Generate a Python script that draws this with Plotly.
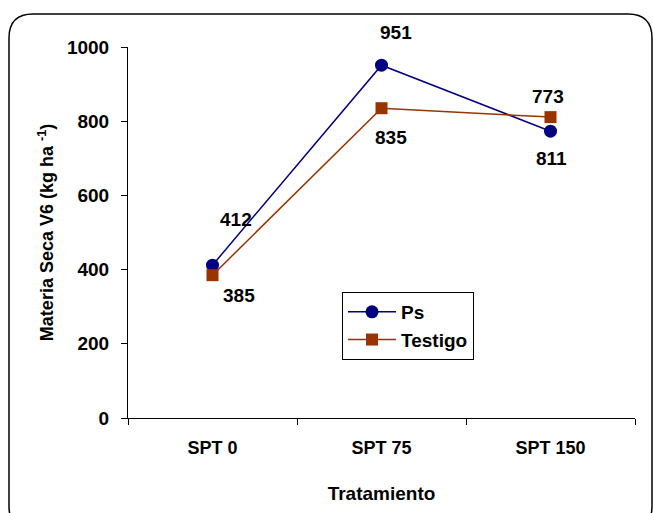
import plotly.graph_objects as go

categories = ["SPT 0", "SPT 75", "SPT 150"]
ps_values = [412, 951, 773]
testigo_values = [385, 835, 811]

# annotation labels as printed in the chart, anchored to nearby points
label_series = ["Ps", "Testigo", "Ps", "Testigo", "Testigo", "Ps"]
label_cat_idx = [0, 0, 1, 1, 2, 2]
label_text = ["412", "385", "951", "835", "773", "811"]
label_shift = [(23, 46), (26, -20), (14, 33), (9, -29), (-3, 21), (1, -27)]

FONT = "Liberation Sans, Arial, sans-serif"
W, H = 653, 513
L, R, T, B = 128, 18, 47, 95
PW, PH = W - L - R, H - T - B

fig = go.Figure()
fig.add_trace(go.Scatter(
    x=categories, y=ps_values, name="Ps", mode="lines+markers",
    line=dict(color="#000080", width=1.5),
    marker=dict(symbol="circle", size=13, color="#000080"),
))
fig.add_trace(go.Scatter(
    x=categories, y=testigo_values, name="Testigo", mode="lines+markers",
    line=dict(color="#993300", width=1.5),
    marker=dict(symbol="square", size=12, color="#993300"),
))

series_map = {"Ps": ps_values, "Testigo": testigo_values}
for s, ci, txt, (dx, dy) in zip(label_series, label_cat_idx, label_text, label_shift):
    fig.add_annotation(
        x=categories[ci], y=series_map[s][ci], text=txt, showarrow=False,
        xshift=dx, yshift=dy, font=dict(family=FONT, size=19, color="black", weight="bold"),
    )

# rounded outer frame (pixel -> paper coordinates)
def px(xp):
    return (xp - L) / PW

def py(yp):
    return (H - B - yp) / PH

x0, y0, x1, y1, r = 9, 14, 652, 530, 24
path = (
    f"M {px(x0 + r)},{py(y0)} L {px(x1 - r)},{py(y0)} "
    f"Q {px(x1)},{py(y0)} {px(x1)},{py(y0 + r)} "
    f"L {px(x1)},{py(y1 - r)} Q {px(x1)},{py(y1)} {px(x1 - r)},{py(y1)} "
    f"L {px(x0 + r)},{py(y1)} Q {px(x0)},{py(y1)} {px(x0)},{py(y1 - r)} "
    f"L {px(x0)},{py(y0 + r)} Q {px(x0)},{py(y0)} {px(x0 + r)},{py(y0)} Z"
)
fig.add_shape(type="path", path=path, xref="paper", yref="paper",
              line=dict(color="black", width=1.5), layer="below")

fig.update_layout(
    width=W, height=H,
    margin=dict(l=L, r=R, t=T, b=B),
    paper_bgcolor="white", plot_bgcolor="white",
    font=dict(family=FONT, size=18, color="black"),
    showlegend=True,
    legend=dict(
        x=px(342), y=py(292), xanchor="left", yanchor="top",
        bordercolor="black", borderwidth=1, bgcolor="white",
        font=dict(family=FONT, size=19, color="black", weight="bold"),
        itemwidth=48, tracegroupgap=0,
    ),
)
fig.update_xaxes(
    type="category", range=[-0.5, 2.5],
    showline=True, linecolor="black", linewidth=1,
    ticks="outside", tickson="boundaries", ticklen=6, tickcolor="black",
    ticklabelstandoff=13,
    showgrid=False, zeroline=False,
    tickfont=dict(family=FONT, size=18, color="black", weight="bold"),
    title=dict(text="Tratamiento", standoff=30,
               font=dict(family=FONT, size=19, color="black", weight="bold")),
)
fig.update_yaxes(
    range=[0, 1000], dtick=200,
    showline=True, linecolor="black", linewidth=1,
    ticks="outside", ticklen=6, tickcolor="black",
    ticklabelstandoff=8,
    showgrid=False, zeroline=False,
    tickfont=dict(family=FONT, size=19, color="black", weight="bold"),
    title=dict(text="Materia Seca V6 (kg ha <sup>-1</sup>)", standoff=8,
               font=dict(family=FONT, size=18, color="black", weight="bold")),
)

fig.write_html("out.html")
